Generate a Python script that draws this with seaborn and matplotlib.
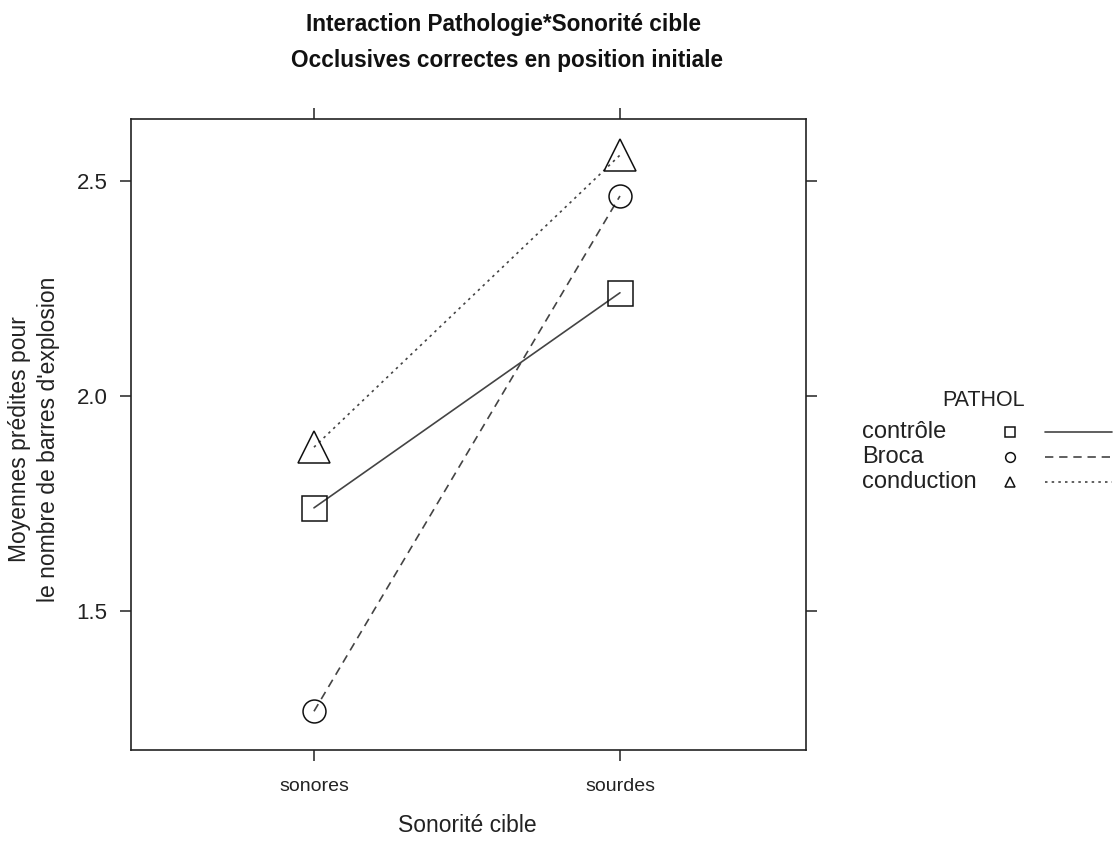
import pandas as pd
import matplotlib.pyplot as plt
import seaborn as sns

categories = ['sonores', 'sourdes']
groups = ['contrôle', 'Broca', 'conduction']
controle = [1.740, 2.240]
broca = [1.267, 2.465]
conduction = [1.881, 2.560]
y_ticks = [1.5, 2.0, 2.5]

sns.set_style('ticks')
plt.rcParams['font.family'] = ['Liberation Sans', 'DejaVu Sans']

rows = []
for name, vals in zip(groups, [controle, broca, conduction]):
    for i, (cat, v) in enumerate(zip(categories, vals)):
        rows.append({'PATHOL': name, 'Sonorite': cat, 'pos': i, 'valeur': v})
df = pd.DataFrame(rows)

W, H = 1118, 841
fig = plt.figure(figsize=(W / 100, H / 100), dpi=100)
ax = fig.add_axes([131 / W, 1 - 750 / H, (806 - 131) / W, (750 - 119) / H])

markers = {'contrôle': 's', 'Broca': 'o', 'conduction': '^'}
dashes = {'contrôle': '', 'Broca': (5, 3.5), 'conduction': (1.5, 2.5)}
sns.lineplot(data=df, x='pos', y='valeur', style='PATHOL', style_order=groups,
             markers=markers, dashes=dashes, color='#444444', linewidth=1.2,
             markerfacecolor='none', markeredgecolor='#111111', markeredgewidth=1.1,
             legend=False, ax=ax)

# marker sizes differ a bit in the reference
msize = {'s': 18, 'o': 16.5, '^': 23}
for ln in ax.lines:
    m = ln.get_marker()
    if m in msize:
        ln.set_markersize(msize[m])

ax.set_xlim(-0.598, 1.608)
ax.set_ylim(1.177, 2.644)
ax.set_xticks(range(len(categories)))
ax.set_xticklabels(categories)
ax.set_yticks(y_ticks)
ax.set_yticklabels([f'{t:.1f}' for t in y_ticks])
ax.set_xlabel('')
ax.set_ylabel('')
for s in ax.spines.values():
    s.set_visible(True)
    s.set_color('#222222')
    s.set_linewidth(1.2)
ax.tick_params(direction='out', length=8, width=1.1, color='#222222',
               top=True, right=True, labeltop=False, labelright=False)
ax.tick_params(axis='x', labelsize=14, pad=12, labelcolor='#222222')
ax.tick_params(axis='y', labelsize=16, pad=9, labelcolor='#222222')

fig.text(503 / W, 1 - 24 / H, 'Interaction Pathologie*Sonorité cible',
         ha='center', va='center', fontsize=16.3, fontweight='bold', color='#111111')
fig.text(507 / W, 1 - 61 / H, 'Occlusives correctes en position initiale',
         ha='center', va='center', fontsize=16.3, fontweight='bold', color='#111111')
fig.text(467 / W, 1 - 825 / H, 'Sonorité cible', ha='center', va='center',
         fontsize=16.5, color='#222222')
fig.text(34 / W, 1 - 439 / H, 'Moyennes prédites pour\nle nombre de barres d\'explosion',
         ha='center', va='center', rotation=90, fontsize=16.5, linespacing=1.3,
         color='#222222')

# key: label, symbol, line
kax = fig.add_axes([850 / W, 1 - 495 / H, (1118 - 850) / W, (495 - 385) / H])
kax.set_xlim(850, 1118)
kax.set_ylim(495, 385)
kax.axis('off')
kax.text(984, 400, 'PATHOL', ha='center', va='center', fontsize=15.5, color='#222222')
for j, name in enumerate(groups):
    yy = 432 + 25 * j
    kax.text(862, yy, name, ha='left', va='center', fontsize=17, color='#222222')
    kax.plot([1010], [yy], marker=markers[name], markersize=7, markerfacecolor='none',
             markeredgecolor='#111111', markeredgewidth=1.1, linestyle='none')
    ln, = kax.plot([1045, 1112], [yy, yy], color='#444444', linewidth=1.2)
    if dashes[name]:
        ln.set_dashes(dashes[name])

fig.savefig('out.png', dpi=100)
